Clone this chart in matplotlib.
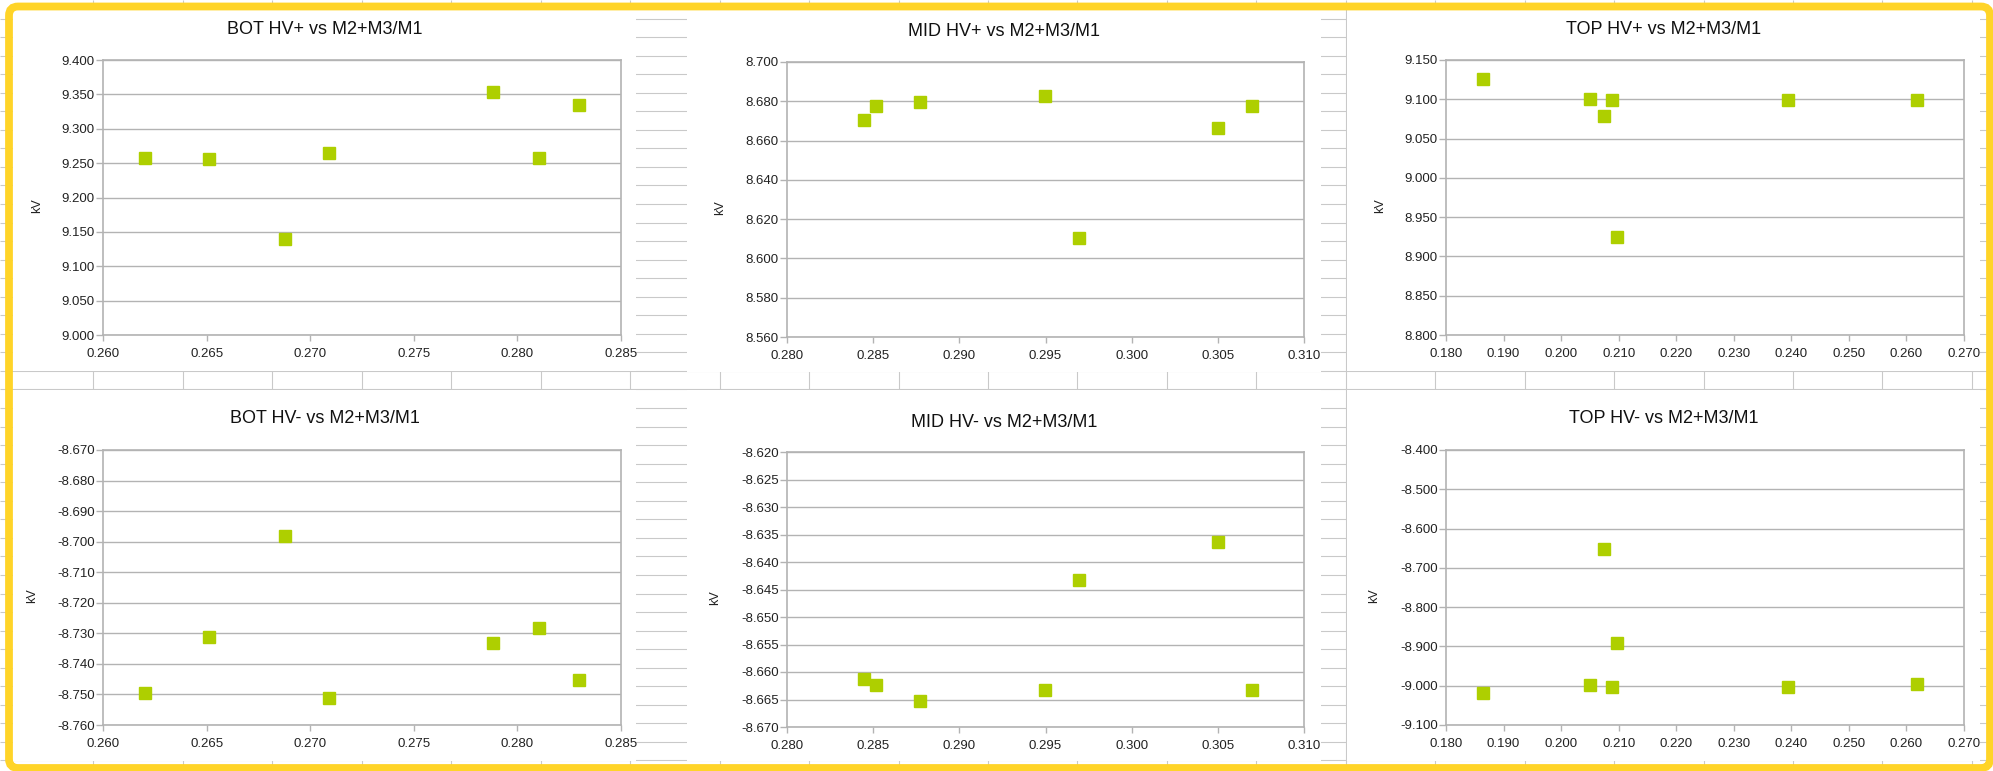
import numpy as np
import matplotlib
matplotlib.use("Agg")
import matplotlib.pyplot as plt
from matplotlib.patches import Rectangle, FancyBboxPatch
from matplotlib.ticker import MultipleLocator, FormatStrFormatter

plt.rcParams['font.family'] = ['Liberation Sans', 'DejaVu Sans']
plt.rcParams['axes.unicode_minus'] = False

# M2+M3/M1 ratio per chamber position
bot_x = [0.26205, 0.26512, 0.26876, 0.27089, 0.27880, 0.28104, 0.28295]
mid_x = [0.28446, 0.28518, 0.28774, 0.29498, 0.29696, 0.30502, 0.30698]
top_x = [0.18639, 0.20505, 0.20740, 0.20887, 0.20976, 0.23936, 0.26192]

# HV settings in kV
bot_hv_pos = [9.258, 9.256, 9.140, 9.265, 9.353, 9.258, 9.335]
mid_hv_pos = [8.6705, 8.6774, 8.6795, 8.6825, 8.6104, 8.6664, 8.6774]
top_hv_pos = [9.1262, 9.1002, 9.0781, 9.0986, 8.9242, 9.0994, 9.0986]

bot_hv_neg = [-8.7494, -8.7313, -8.6982, -8.7513, -8.7333, -8.7283, -8.7453]
mid_hv_neg = [-8.6613, -8.6623, -8.6653, -8.6633, -8.6433, -8.6364, -8.6633]
top_hv_neg = [-9.0192, -8.9988, -8.6518, -9.0030, -8.8916, -9.0030, -8.9945]

titles = ["BOT HV+ vs M2+M3/M1", "MID HV+ vs M2+M3/M1", "TOP HV+ vs M2+M3/M1",
          "BOT HV- vs M2+M3/M1", "MID HV- vs M2+M3/M1", "TOP HV- vs M2+M3/M1"]

W, H = 1993, 771
MARKER = '#aecf00'
GRID = '#b3b3b3'
CELL = '#c9c9c9'
YELLOW = '#ffd428'

fig = plt.figure(figsize=(W / 100, H / 100), dpi=100)

# spreadsheet background (pixel coordinates, y down)
bg = fig.add_axes([0, 0, 1, 1], zorder=-10)
bg.set_xlim(0, W)
bg.set_ylim(H, 0)
bg.axis('off')
bg.hlines(np.arange(18.5, H, 18.55), 0, W, color=CELL, lw=0.8, zorder=1)
bg.vlines(np.arange(93.5, W, 89.45), 0, H, color=CELL, lw=0.8, zorder=1)

# chart frames: (left, right, top, bottom) of the white chart area
frames = [(13, 636, 10, 371), (687, 1321, 10, 372), (1347, 1980, 10, 371),
          (13, 636, 390, 761), (687, 1321, 390, 761), (1347, 1980, 390, 761)]
for l, r, t, b in frames:
    bg.add_patch(Rectangle((l, t), r - l, b - t, facecolor='white',
                           edgecolor='none', zorder=2))

bg.add_patch(FancyBboxPatch((9, 6.5), 1981, 761.5,
                            boxstyle="round,pad=0,rounding_size=9",
                            facecolor='none', edgecolor=YELLOW, lw=5.6, zorder=5))

# plot areas in pixels: (left, right, top, bottom)
plot_boxes = [(103, 621, 60, 335), (787, 1304, 62, 337), (1446, 1964, 60, 335),
              (103, 621, 450, 725), (787, 1304, 452, 727), (1446, 1964, 450, 725)]
title_pos = [(324.5, 30), (1004, 32), (1663.5, 30),
             (324.5, 419), (1004, 422), (1663.5, 419)]
label_pos = [(37, 206), (720, 208), (1380, 206),
             (32, 596), (715, 598), (1374, 596)]

series = [(bot_x, bot_hv_pos), (mid_x, mid_hv_pos), (top_x, top_hv_pos),
          (bot_x, bot_hv_neg), (mid_x, mid_hv_neg), (top_x, top_hv_neg)]
xlims = [(0.260, 0.285, 0.005), (0.280, 0.310, 0.005), (0.180, 0.270, 0.010)] * 2
ylims = [(9.000, 9.400, 0.05), (8.560, 8.700, 0.02), (8.800, 9.150, 0.05),
         (-8.760, -8.670, 0.01), (-8.670, -8.620, 0.005), (-9.100, -8.400, 0.1)]

for i in range(6):
    l, r, t, b = plot_boxes[i]
    ax = fig.add_axes([l / W, 1 - b / H, (r - l) / W, (b - t) / H])
    xs, ys = series[i]
    ax.plot(xs, ys, linestyle='none', marker='s', markersize=8.3,
            color=MARKER, markeredgecolor=MARKER, zorder=3)

    x0, x1, xs_step = xlims[i]
    y0, y1, ys_step = ylims[i]
    ax.set_xlim(x0, x1)
    ax.set_ylim(y0, y1)
    ax.xaxis.set_major_locator(MultipleLocator(xs_step))
    ax.yaxis.set_major_locator(MultipleLocator(ys_step))
    ax.xaxis.set_major_formatter(FormatStrFormatter('%.3f'))
    ax.yaxis.set_major_formatter(FormatStrFormatter('%.3f'))

    ax.grid(axis='y', color=GRID, lw=1.0)
    ax.set_axisbelow(True)
    for sp in ax.spines.values():
        sp.set_color(GRID)
        sp.set_linewidth(1.2)
    ax.tick_params(axis='x', length=4.5, width=1.0, color=GRID, pad=5,
                   labelsize=9.5, labelcolor='#222222')
    ax.tick_params(axis='y', length=5, width=1.0, color=GRID, pad=1,
                   labelsize=9.5, labelcolor='#222222')

    tx, ty = title_pos[i]
    fig.text(tx / W, 1 - ty / H, titles[i], ha='center', va='center',
             fontsize=13, color='#111111')
    kx, ky = label_pos[i]
    fig.text(kx / W, 1 - ky / H, "kV", ha='center', va='center',
             rotation=90, fontsize=9, color='#222222')

fig.savefig("out.png", dpi=100)
